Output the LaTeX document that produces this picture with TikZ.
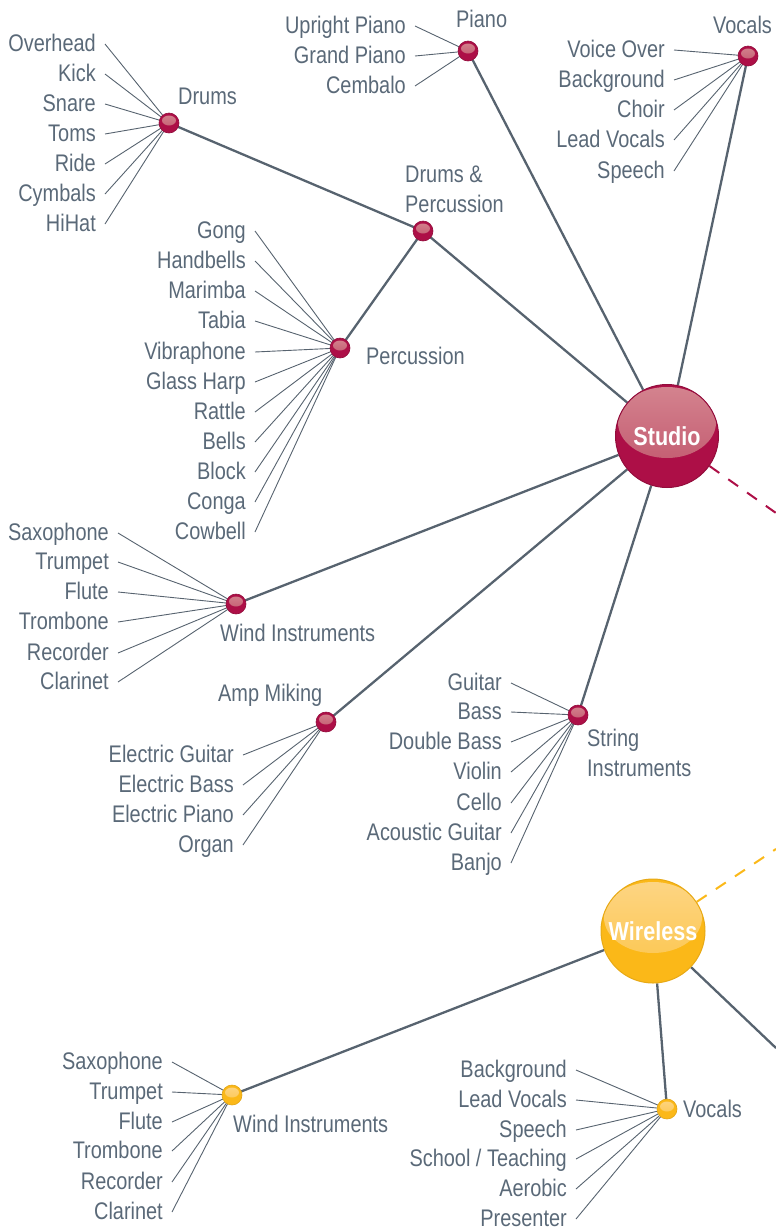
\documentclass[tikz,border=0pt]{standalone}
\usepackage{fontspec}
\setmainfont{Liberation Sans}[FakeStretch=0.83]
\usetikzlibrary{calc}
\pgfdeclarelayer{bg}
\pgfsetlayers{bg,main}
\definecolor{txt}{HTML}{5A6978}
\definecolor{edgec}{HTML}{57636F}
\definecolor{crim}{HTML}{AD0F47}
\definecolor{crimhi}{HTML}{D4848F}
\definecolor{crimmid}{HTML}{BF5169}
\definecolor{gold}{HTML}{FBB818}
\definecolor{goldhi}{HTML}{FDD584}
\definecolor{goldmid}{HTML}{FCC447}
\tikzset{
  leaf/.style={anchor=east, inner xsep=9pt, inner ysep=0pt, text height=15pt, text depth=0pt, text=txt, font=\fontsize{24}{30}\selectfont},
  lab/.style={inner sep=0pt, text height=17pt, text depth=0pt, text=txt, font=\fontsize{24}{30}\selectfont},
  labtwo/.style={inner sep=0pt, anchor=north west, align=left, text=txt, font=\fontsize{24}{30}\selectfont},
  hubR/.style={circle, inner sep=0pt, minimum size=20pt, fill=crim, draw=crim!85!black, line width=0.6pt,
    path picture={\fill[top color=crimhi, bottom color=crimmid] ([yshift=2.5pt]path picture bounding box.center) ellipse (7pt and 5pt);}},
  hubY/.style={circle, inner sep=0pt, minimum size=20pt, fill=gold, draw=gold!90!black, line width=0.6pt,
    path picture={\fill[top color=goldhi, bottom color=goldmid] ([yshift=2.5pt]path picture bounding box.center) ellipse (7pt and 5pt);}},
  bigR/.style={circle, inner sep=0pt, minimum size=103pt, fill=crim, draw=crim!85!black, line width=1pt, text=white,
    font=\bfseries\fontsize{26}{30}\selectfont,
    path picture={\fill[top color=crimhi, bottom color=crimmid] ([yshift=13.5pt]path picture bounding box.center) ellipse (49pt and 35.5pt);}},
  bigY/.style={circle, inner sep=0pt, minimum size=104pt, fill=gold, draw=gold!92!black, line width=1pt, text=white,
    font=\bfseries\fontsize{26}{30}\selectfont,
    path picture={\fill[top color=goldhi, bottom color=goldmid] ([yshift=13.5pt]path picture bounding box.center) ellipse (49pt and 35.5pt);}},
  ledge/.style={draw=edgec, line width=0.9pt},
  medge/.style={draw=edgec, line width=2.3pt},
  dashR/.style={draw=crim, line width=2pt, dash pattern=on 12pt off 11pt},
  dashY/.style={draw=gold, line width=2pt, dash pattern=on 12pt off 11pt},
}
\begin{document}
\begin{tikzpicture}[x=1pt,y=-1pt]
\path[use as bounding box] (0,0) rectangle (776,1232);

% main balls
\node[bigR] (studio) at (667,436) {Studio};
\node[bigY] (wireless) at (653,931) {Wireless};
\coordinate (sout) at (776,513);
\coordinate (wout) at (776,849);
\coordinate (wgo) at (776,1048);

% hubs
\node[hubR] (drums) at (169,123) {};
\node[hubR] (piano) at (468,51) {};
\node[hubR] (vocals) at (748,56) {};
\node[hubR] (dperc) at (423,231) {};
\node[hubR] (perc) at (340,348) {};
\node[hubR] (wind) at (236,604) {};
\node[hubR] (amp) at (326,722) {};
\node[hubR] (string) at (578,715) {};
\node[hubY] (wwind) at (232,1095) {};
\node[hubY] (wvoc) at (667,1109) {};

% hub labels
\node[lab, anchor=west] (ldrums) at (178,96) {Drums};
\node[lab, anchor=west] (lpiano) at (456,19) {Piano};
\node[lab, anchor=west] (lvocals) at (713,25) {Vocals};
\node[labtwo] (ldperc) at (405,166) {Drums \&\\Percussion};
\node[lab, anchor=west] (lperc) at (366,356) {Percussion};
\node[lab, anchor=west] (lwind) at (220,633) {Wind Instruments};
\node[lab, anchor=west] (lamp) at (218,693) {Amp Miking};
\node[labtwo] (lstring) at (587,729) {String\\Instruments};
\node[lab, anchor=west] (lwwind) at (233,1124) {Wind Instruments};
\node[lab, anchor=west] (lwvoc) at (683,1109) {Vocals};

% leaves
\foreach \t/\y [count=\i] in {Overhead/44,Kick/74,Snare/104,Toms/134,Ride/164,Cymbals/194,HiHat/224}
  \node[leaf] (dr\i) at (105,\y) {\t};
\foreach \t/\y [count=\i] in {Upright Piano/26,Grand Piano/56,Cembalo/86}
  \node[leaf] (pi\i) at (415,\y) {\t};
\foreach \t/\y [count=\i] in {Voice Over/50,Background/80,Choir/110,Lead Vocals/140,Speech/171}
  \node[leaf] (vo\i) at (674,\y) {\t};
\foreach \t/\y [count=\i] in {Gong/231,Handbells/261,Marimba/291,Tabia/321,Vibraphone/352,Glass Harp/382,Rattle/412,Bells/442,Block/472,Conga/502,Cowbell/532}
  \node[leaf] (pe\i) at (255,\y) {\t};
\foreach \t/\y [count=\i] in {Saxophone/533,Trumpet/562,Flute/592,Trombone/622,Recorder/653,Clarinet/682}
  \node[leaf] (wi\i) at (118,\y) {\t};
\foreach \t/\y [count=\i] in {Electric Guitar/755,Electric Bass/785,Electric Piano/815,Organ/845}
  \node[leaf] (am\i) at (243,\y) {\t};
\foreach \t/\y [count=\i] in {Guitar/683,Bass/712,Double Bass/742,Violin/772,Cello/803,Acoustic Guitar/833,Banjo/863}
  \node[leaf] (st\i) at (511,\y) {\t};
\foreach \t/\y [count=\i] in {Saxophone/1062,Trumpet/1092,Flute/1122,Trombone/1151,Recorder/1182,Clarinet/1212}
  \node[leaf] (ww\i) at (172,\y) {\t};
\foreach \t/\y [count=\i] in {Background/1070,Lead Vocals/1100,Speech/1130,{School / Teaching}/1159,Aerobic/1189,Presenter/1219}
  \node[leaf] (wv\i) at (576,\y) {\t};

\begin{pgfonlayer}{bg}
  % main edges
  \draw[medge] (studio) -- (piano.center);
  \draw[medge] (studio) -- (vocals.center);
  \draw[medge] (studio) -- (dperc.center);
  \draw[medge] (dperc.center) -- (drums.center);
  \draw[medge] (dperc.center) -- (perc.center);
  \draw[medge] (studio) -- (wind.center);
  \draw[medge] (studio) -- (amp.center);
  \draw[medge] (studio) -- (string.center);
  \draw[medge] (wireless) -- (wwind.center);
  \draw[medge] (wireless) -- (wvoc.center);
  \draw[medge] (wireless) -- (wgo);
  \draw[dashR] (studio) -- (sout);
  \draw[dashY] (wireless) -- (wout);
  % leaf edges
  \foreach \i in {1,...,7} \draw[ledge] (dr\i.east) -- (drums.center);
  \foreach \i in {1,...,3} \draw[ledge] (pi\i.east) -- (piano.center);
  \foreach \i in {1,...,5} \draw[ledge] (vo\i.east) -- (vocals.center);
  \foreach \i in {1,...,11} \draw[ledge] (pe\i.east) -- (perc.center);
  \foreach \i in {1,...,6} \draw[ledge] (wi\i.east) -- (wind.center);
  \foreach \i in {1,...,4} \draw[ledge] (am\i.east) -- (amp.center);
  \foreach \i in {1,...,7} \draw[ledge] (st\i.east) -- (string.center);
  \foreach \i in {1,...,6} \draw[ledge] (ww\i.east) -- (wwind.center);
  \foreach \i in {1,...,6} \draw[ledge] (wv\i.east) -- (wvoc.center);
\end{pgfonlayer}
\end{tikzpicture}
\end{document}
